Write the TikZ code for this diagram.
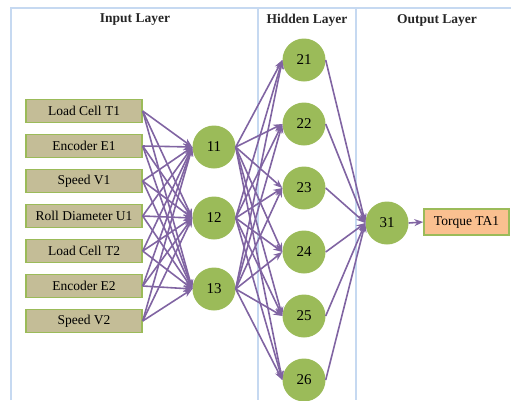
\documentclass[tikz,border=0pt]{standalone}
\usepackage{fontspec}
\setmainfont{Liberation Serif}
\usetikzlibrary{arrows.meta}
\definecolor{frameblue}{HTML}{C6D9F1}
\definecolor{olive}{HTML}{9BBB59}
\definecolor{tanfill}{HTML}{C4BD97}
\definecolor{linkpurple}{HTML}{8064A2}
\definecolor{orangefill}{HTML}{FAC090}
\tikzset{
  inbox/.style={draw=olive, fill=tanfill, line width=1.4pt, minimum width=116pt, minimum height=23pt, inner sep=0pt, font=\fontsize{13.5}{15}\selectfont},
  outbox/.style={draw=olive, fill=orangefill, line width=1.4pt, minimum width=85pt, minimum height=26pt, inner sep=0pt, font=\fontsize{13.5}{15}\selectfont},
  neuron/.style={circle, fill=olive, minimum size=43pt, inner sep=0pt, font=\fontsize{15}{17}\selectfont},
  conn/.style={draw=linkpurple, line width=1.6pt, -{Stealth[length=9pt,width=7pt]}},
  layertitle/.style={font=\bfseries\fontsize{13.5}{15}\selectfont, text=black!85},
  frameline/.style={draw=frameblue, line width=1.3pt}
}
\begin{document}
\begin{tikzpicture}[x=1pt,y=-1pt]
\useasboundingbox (0,0) rectangle (511,400);
% layer frame
\draw[frameline] (11,400) -- (11,8) -- (511,8);
\draw[frameline] (258,8) -- (258,400);
\draw[frameline] (356,8) -- (356,400);
% titles
\node[layertitle] (tin) at (135,20) {Input\ Layer};
\node[layertitle] (thid) at (307,20) {Hidden\ Layer};
\node[layertitle] (tout) at (437,20) {Output\ Layer};
% input layer
\node[inbox] (i1) at (84,111) {Load Cell T1};
\node[inbox] (i2) at (84,146) {Encoder E1};
\node[inbox] (i3) at (84,181) {Speed V1};
\node[inbox] (i4) at (84,216) {Roll Diameter U1};
\node[inbox] (i5) at (84,251) {Load Cell T2};
\node[inbox] (i6) at (84,286) {Encoder E2};
\node[inbox] (i7) at (84,321) {Speed V2};
% first hidden layer
\node[neuron] (h11) at (214,147) {11};
\node[neuron] (h12) at (214,218) {12};
\node[neuron] (h13) at (214,289) {13};
% second hidden layer
\node[neuron] (h21) at (304,60) {21};
\node[neuron] (h22) at (304,124) {22};
\node[neuron] (h23) at (304,188) {23};
\node[neuron] (h24) at (304,252) {24};
\node[neuron] (h25) at (304,316) {25};
\node[neuron] (h26) at (304,380) {26};
% output
\node[neuron] (o31) at (387,223) {31};
\node[outbox] (out) at (466.5,222) {Torque TA1};
% connections
\foreach \a in {i1,i2,i3,i4,i5,i6,i7}
  \foreach \b in {h11,h12,h13}
    \draw[conn] (\a.east) -- (\b.west);
\foreach \a in {h11,h12,h13}
  \foreach \b in {h21,h22,h23,h24,h25,h26}
    \draw[conn] (\a.east) -- (\b.west);
\foreach \a in {h21,h22,h23,h24,h25,h26}
  \draw[conn] (\a.east) -- (o31.west);
\draw[conn] (o31.east) -- (out.west);
\end{tikzpicture}
\end{document}
